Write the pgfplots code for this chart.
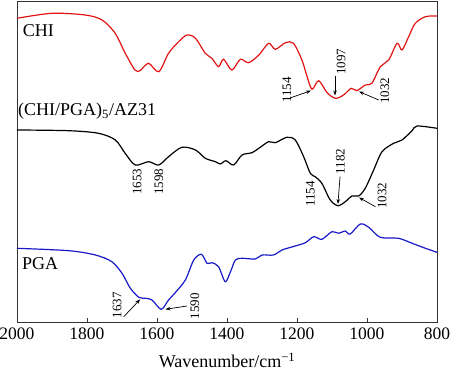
\documentclass[border=0pt]{standalone}
\usepackage{pgfplots}
\pgfplotsset{compat=1.18}
\usepackage{fontspec}
\setmainfont{Liberation Serif}
\usetikzlibrary{arrows.meta}
\definecolor{cred}{RGB}{225,20,20}
\definecolor{cblue}{RGB}{25,25,200}
\begin{document}
\begin{tikzpicture}
\begin{axis}[
  scale only axis,
  width=420bp, height=321bp,
  at={(0,0)}, anchor=south west,
  x dir=reverse,
  xmin=800, xmax=2000, ymin=50, ymax=371,
  xtick={800,1000,1200,1400,1600,1800,2000},
  ytick=\empty,
  xtick pos=left,
  tick align=inside,
  major tick length=4bp,
  axis line style={line width=0.9bp, black!80},
  tick style={line width=0.8bp, black!80},
  /pgf/number format/assume math mode=true,
  /pgf/number format/set thousands separator={},
  ticklabel style={font=\fontsize{17.5bp}{20bp}\selectfont},
  xticklabel style={yshift=-2bp},
  xlabel={Wavenumber/cm\textsuperscript{−1}},
  xlabel style={font=\fontsize{18bp}{20bp}\selectfont, yshift=-7bp},
  clip=false,
]
\addplot[cred, line width=1.2bp, smooth, tension=0.5] coordinates {
(2000,353.7)(1900,358.7)(1805,357)(1757,352)(1720,339)(1691,319)(1663,302)(1648,301.5)(1624,308.7)(1595,300.3)(1567,318.7)(1538,330.3)(1514,337)(1490,333.7)(1462,318.7)(1443,313.7)(1424,305.3)(1410,312.7)(1386,302)(1362,312.7)(1338,309.3)(1309,317)(1281,328.7)(1262,322.7)(1233,329.3)(1210,328.7)(1186,312)(1171,295.3)(1157,282.7)(1138,291.3)(1114,279.3)(1090,273.7)(1067,277)(1045,283.7)(1029,281.3)(1005,287)(986,288.7)(962,305.3)(938,312)(914,328.7)(900,322)(881,335.3)(862,348.7)(833,355.3)(800,356)
};
\addplot[black, line width=1.2bp, smooth, tension=0.5] coordinates {
(2000,242)(1852,241.3)(1767,238.7)(1719,232)(1691,218.7)(1662,207)(1624,210.3)(1595,207)(1567,215.3)(1529,224.7)(1490,222)(1462,213.7)(1433,210.3)(1419,208)(1403,211.3)(1381,207)(1357,217)(1329,219.3)(1305,224.7)(1281,230.3)(1262,229.3)(1229,234.7)(1205,232)(1181,215.3)(1162,198.7)(1148,195.3)(1129,188.7)(1105,172)(1083,166.3)(1062,170.3)(1043,176)(1024,176)(1005,183.7)(981,202)(957,220.3)(924,228.7)(900,232)(871,241.3)(857,246)(800,243.7)
};
\addplot[cblue, line width=1.2bp, smooth, tension=0.5] coordinates {
(2000,123.7)(1852,121.3)(1776,117)(1729,110.3)(1700,98.7)(1676,83.7)(1652,74.7)(1633,73.7)(1614,72)(1588,62.7)(1567,72)(1548,79.3)(1519,92)(1495,112)(1473,117.7)(1457,108.7)(1443,109.3)(1424,105.3)(1405,90.3)(1390,100.3)(1376,112)(1357,113.7)(1319,113)(1300,117)(1267,117)(1243,122)(1205,126)(1176,129.3)(1152,135.3)(1129,132.7)(1100,140.3)(1081,138.7)(1062,141)(1048,138)(1019,148)(995,144.7)(962,134.7)(910,133.7)(871,128.7)(833,123.7)(800,119.7)
};
% curve labels
\node[anchor=base west, inner sep=0, font=\fontsize{18bp}{20bp}\selectfont] at (axis cs:1983.7,335.3) {CHI};
\node[anchor=base west, inner sep=0, font=\fontsize{18bp}{20bp}\selectfont] at (axis cs:1997,256) {(CHI/PGA)\textsubscript{5}/AZ31};
\node[anchor=base west, inner sep=0, font=\fontsize{18bp}{20bp}\selectfont] at (axis cs:1985.7,102.7) {PGA};
% annotations
\tikzset{ann/.style={rotate=90, inner sep=0, font=\fontsize{13bp}{15bp}\selectfont},
         arr/.style={-{Stealth[length=5bp,width=3.5bp]}, line width=0.7bp, black}}
\node[ann] at (axis cs:1228.6,282) {1154};
\draw[arr] (axis cs:1220,274) -- (axis cs:1160,281.3);
\node[ann] at (axis cs:1074.3,310) {1097};
\draw[arr] (axis cs:1091.4,296) -- (axis cs:1091.4,276.5);
\node[ann] at (axis cs:948.6,281) {1032};
\draw[arr] (axis cs:966.7,272) -- (axis cs:1023,280.5);
\node[ann] at (axis cs:1657,190.3) {1653};
\node[ann] at (axis cs:1595,190.3) {1598};
\node[ann] at (axis cs:1162,178) {1154};
\node[ann] at (axis cs:1076,210.3) {1182};
\draw[arr] (axis cs:1077,195.3) -- (axis cs:1083,168);
\node[ann] at (axis cs:957,176) {1032};
\draw[arr] (axis cs:976,165.3) -- (axis cs:1023,174.5);
\node[ann] at (axis cs:1714,67) {1637};
\draw[arr] (axis cs:1695,55.3) -- (axis cs:1648,72.7);
\node[ann] at (axis cs:1492,66) {1590};
\draw[arr] (axis cs:1514,66) -- (axis cs:1576,62.7);
\end{axis}
\pgfresetboundingbox
\path[use as bounding box] (-17bp,-50bp) rectangle (433bp,322bp);
\end{tikzpicture}
\end{document}
